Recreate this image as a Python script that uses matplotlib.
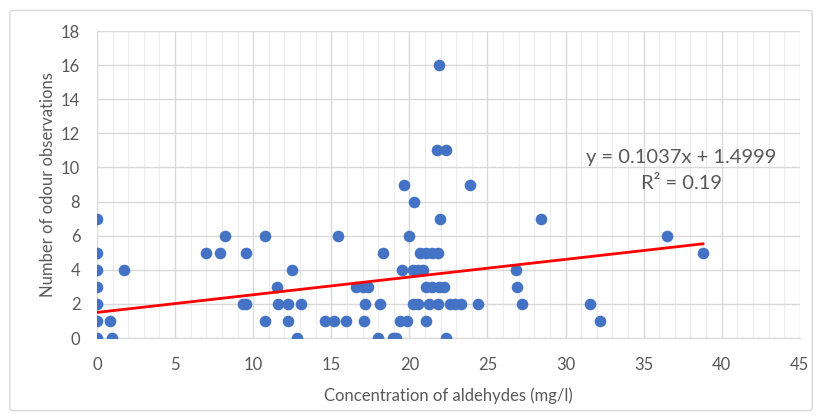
import matplotlib.pyplot as plt
from matplotlib.ticker import MultipleLocator
from matplotlib.patches import FancyBboxPatch

plt.rcParams['font.family'] = ['Lato', 'DejaVu Sans']

# concentration of aldehydes (mg/l) and number of odour observations
conc = [0, 0.94, 12.8, 18.02, 18.96, 19.17, 22.37,
        0, 0.81, 10.77, 12.26, 14.6, 15.2, 15.97, 17.08, 19.39, 19.87, 21.09, 32.18,
        0, 9.32, 9.51, 11.62, 12.24, 13.05, 17.17, 18.1, 20.22, 20.56, 21.25, 21.82,
        22.58, 22.95, 23.3, 24.4, 27.24, 31.59,
        0, 11.52, 16.61, 17.0, 17.38, 21.04, 21.48, 21.9, 22.22, 26.91,
        0, 1.75, 12.48, 19.56, 20.24, 20.56, 20.9, 26.85,
        0, 6.97, 7.87, 9.51, 18.3, 20.67, 21.09, 21.48, 21.86, 38.8,
        8.17, 10.77, 15.4, 19.96, 36.49,
        0, 21.96, 28.4,
        20.3,
        19.66, 23.86,
        21.77, 22.33,
        21.88]
odour = [0] * 7 + [1] * 12 + [2] * 18 + [3] * 10 + [4] * 8 + [5] * 10 + \
        [6] * 5 + [7] * 3 + [8] + [9] * 2 + [11] * 2 + [16]

slope = 0.1037
intercept = 1.4999
r2 = 0.19

fig = plt.figure(figsize=(8.22, 4.19), dpi=100)
fig.patches.append(FancyBboxPatch((0.012, 0.02), 0.976, 0.955, boxstyle="round,pad=0,rounding_size=0.005",
                                  transform=fig.transFigure, fill=False, edgecolor='#d9d9d9', linewidth=1))
ax = fig.add_axes([0.118, 0.1933, 0.855, 0.7327])

ax.scatter(conc, odour, s=70, color='#4472C4', zorder=3, linewidths=0)
xmax = max(conc)
ax.plot([0, xmax], [intercept, intercept + slope * xmax], color='#FF0000', linewidth=2, zorder=4)

ax.set_xlim(0, 45)
ax.set_ylim(0, 18)
ax.xaxis.set_major_locator(MultipleLocator(5))
ax.xaxis.set_minor_locator(MultipleLocator(1))
ax.yaxis.set_major_locator(MultipleLocator(2))
ax.grid(which='major', color='#d9d9d9', linewidth=1)
ax.grid(which='minor', axis='x', color='#ececec', linewidth=0.8)
ax.set_axisbelow(True)
for s in ['top', 'right', 'left']:
    ax.spines[s].set_visible(False)
ax.spines['bottom'].set_color('#d9d9d9')
ax.tick_params(which='both', length=0, colors='#595959', labelsize=12)
ax.tick_params(axis='x', pad=14)
ax.tick_params(axis='y', pad=12)
ax.set_xlabel('Concentration of aldehydes (mg/l)', fontsize=12, color='#595959', labelpad=10)
ax.set_ylabel('Number of odour observations', fontsize=12, color='#595959', labelpad=4)

ax.text(37.4, 10.6, f'y = {slope}x + {intercept}', fontsize=14.5, color='#595959',
        ha='center', va='center')
ax.text(37.4, 9.03, f'R² = {r2}', fontsize=14.5, color='#595959',
        ha='center', va='center')

fig.savefig('out.png', dpi=100)
